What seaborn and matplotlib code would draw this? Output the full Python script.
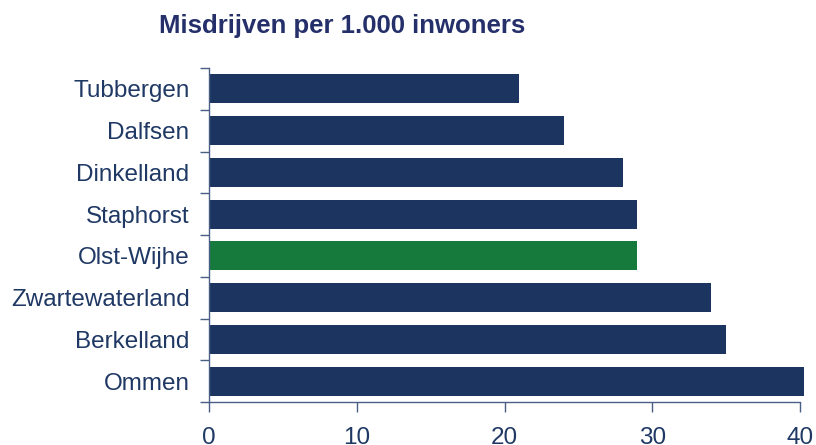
import matplotlib
matplotlib.use("Agg")
import matplotlib.pyplot as plt
import seaborn as sns
import pandas as pd
import numpy as np

gemeenten = ["Tubbergen", "Dalfsen", "Dinkelland", "Staphorst", "Olst-Wijhe",
             "Zwartewaterland", "Berkelland", "Ommen"]
misdrijven = [21, 24, 28, 29, 29, 34, 35, 40.3]
highlight = "Olst-Wijhe"
xticks = [0, 10, 20, 30, 40]

navy = "#1B3560"
green = "#167A3C"
text_col = "#1F3864"
title_col = "#25306B"
spine_col = "#4A5F85"

sns.set_theme(style="white")
plt.rcParams["font.family"] = ["Liberation Sans", "DejaVu Sans"]

df = pd.DataFrame({"gemeente": gemeenten, "waarde": misdrijven})
palette = {g: (green if g == highlight else navy) for g in gemeenten}

fig = plt.figure(figsize=(8.16, 4.45), dpi=100)
ax = fig.add_axes([209 / 816, 1 - 402 / 445, (800 - 209) / 816, (402 - 68) / 445])

sns.barplot(data=df, x="waarde", y="gemeente", hue="gemeente", palette=palette,
            order=gemeenten, orient="h", width=0.7, legend=False, ax=ax,
            saturation=1, linewidth=0)
for p in ax.patches:
    p.set_clip_on(False)

ax.set_xlim(0, 40)
ax.set_ylim(len(gemeenten) - 0.5, -0.5)
ax.set_xticks(xticks)
ax.set_xticklabels([str(t) for t in xticks], fontsize=17.5, color=text_col)
ax.set_yticks(range(len(gemeenten)))
ax.set_yticklabels(gemeenten, fontsize=17.5, color=text_col)
ax.set_yticks(np.arange(-0.5, len(gemeenten)), minor=True)
ax.tick_params(axis="y", which="major", length=0, pad=14)
ax.tick_params(axis="y", which="minor", length=6.5, width=1, color=spine_col, left=True)
ax.tick_params(axis="x", which="major", length=7.2, width=1, color=spine_col, bottom=True, pad=10.5)
ax.set_xlabel("")
ax.set_ylabel("")

for s in ["top", "right"]:
    ax.spines[s].set_visible(False)
for s in ["left", "bottom"]:
    ax.spines[s].set_color(spine_col)
    ax.spines[s].set_linewidth(1)

fig.text(342 / 816, 1 - 26 / 445, "Misdrijven per 1.000 inwoners", ha="center", va="center",
         fontsize=18.5, fontweight="bold", color=title_col)

fig.savefig("out.png", dpi=100)
